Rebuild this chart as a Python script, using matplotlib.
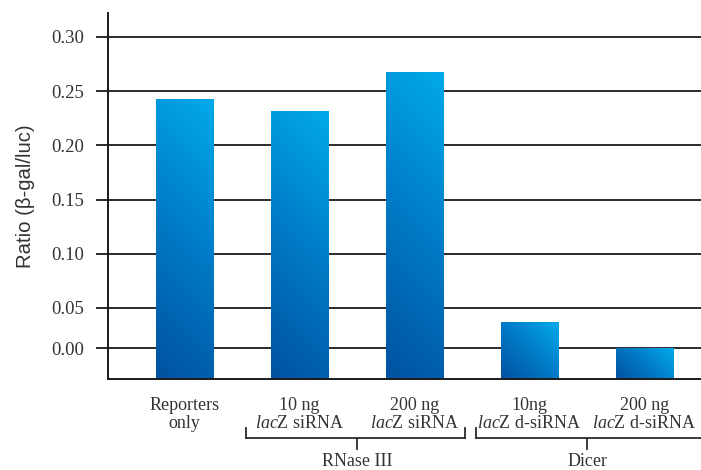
import numpy as np
import matplotlib
matplotlib.use('Agg')
import matplotlib.pyplot as plt
from matplotlib.colors import LinearSegmentedColormap
from matplotlib.transforms import blended_transform_factory

plt.rcParams['mathtext.fontset'] = 'custom'
plt.rcParams['mathtext.rm'] = 'Liberation Serif'
plt.rcParams['mathtext.it'] = 'Liberation Serif:italic'

# data
categories = ['Reporters\nonly',
              '10 ng\n$\\mathit{lac}$Z siRNA',
              '200 ng\n$\\mathit{lac}$Z siRNA',
              '10ng\n$\\mathit{lac}$Z d-siRNA',
              '200 ng\n$\\mathit{lac}$Z d-siRNA']
ratios = [0.243, 0.232, 0.268, 0.037, 0.013]
groups = ['RNase III', 'Dicer']
group_members = [[1, 2], [3, 4]]
tick_labels = ['0.00', '0.05', '0.10', '0.15', '0.20', '0.25', '0.30']
tick_pos = [0.013, 0.05, 0.10, 0.15, 0.20, 0.25, 0.30]

W, H = 701, 470
fig = plt.figure(figsize=(W / 100, H / 100), dpi=100)
ax_left, ax_right, ax_top, ax_bot = 108, 701, 13, 379
ax = fig.add_axes([ax_left / W, 1 - ax_bot / H, (ax_right - ax_left) / W, (ax_bot - ax_top) / H])

ymin, ymax = -0.0155, 0.322
ax.set_xlim(-0.667, 4.49)
ax.set_ylim(ymin, ymax)

txt = '#333333'
for t in tick_pos:
    ax.axhline(t, color='#2b2b2b', lw=1.4, zorder=1)

# diagonal gradient per bar, dark bottom-left -> light top-right
cmap = LinearSegmentedColormap.from_list('blu', ['#0052a0', '#007ac6', '#00aaea'])
bw = 0.496
x = np.arange(len(ratios))
bars = ax.bar(x, [r - ymin for r in ratios], bottom=ymin, width=bw,
              color='none', edgecolor='none', zorder=2)
for b in bars:
    bx, by = b.get_x(), b.get_y()
    bwid, bh = b.get_width(), b.get_height()
    wpx = bwid * 115
    hpx = bh * 1084
    n = 100
    u = np.linspace(0, 1, n)
    U, V = np.meshgrid(u, u)
    g = (U * wpx + V * hpx) / (wpx + hpx)
    im = ax.imshow(g, cmap=cmap, vmin=0, vmax=1, origin='lower', aspect='auto',
                   extent=[bx, bx + bwid, by, by + bh], zorder=3, interpolation='bilinear')
    im.set_clip_path(b)

ax.set_xlim(-0.667, 4.49)
ax.set_ylim(ymin, ymax)

for s in ['top', 'right']:
    ax.spines[s].set_visible(False)
for s in ['left', 'bottom']:
    ax.spines[s].set_linewidth(1.4)
    ax.spines[s].set_color('#1a1a1a')
    ax.spines[s].set_zorder(4)

ax.set_yticks(tick_pos)
ax.set_yticklabels(tick_labels, fontfamily='Liberation Serif', fontsize=13.5, color=txt)
ax.tick_params(axis='y', length=9, width=1.4, color='#2b2b2b', pad=8)
ax.set_xticks([])
ax.set_ylabel('Ratio (β-gal/luc)', fontfamily='Liberation Sans', fontsize=14.6, color=txt, labelpad=12)

trans = blended_transform_factory(ax.transData, ax.transAxes)


def ypx(p):
    return (ax_bot - p) / (ax_bot - ax_top)


for i, c in enumerate(categories):
    l1, l2 = c.split('\n')
    ax.text(i, ypx(405), l1, transform=trans, ha='center', va='center',
            fontfamily='Liberation Serif', fontsize=13, color=txt)
    ax.text(i, ypx(424), l2, transform=trans, ha='center', va='center',
            fontfamily='Liberation Serif', fontsize=13, color=txt)

lw = 1.3
for gi, (name, mem) in enumerate(zip(groups, group_members)):
    mid = (mem[0] + mem[-1]) / 2
    left = mid - 0.97
    right = mid + 0.94 if gi == 0 else 4.6
    ax.plot([left, right], [ypx(438)] * 2, transform=trans, color='#2b2b2b', lw=lw, clip_on=False)
    ax.plot([left, left], [ypx(428), ypx(438)], transform=trans, color='#2b2b2b', lw=lw, clip_on=False)
    if gi == 0:
        ax.plot([right, right], [ypx(428), ypx(438)], transform=trans, color='#2b2b2b', lw=lw, clip_on=False)
    ax.plot([mid, mid], [ypx(438), ypx(449)], transform=trans, color='#2b2b2b', lw=lw, clip_on=False)
    ax.text(mid, ypx(461), name, transform=trans, ha='center', va='center',
            fontfamily='Liberation Serif', fontsize=13, color=txt)

fig.savefig('out.png', dpi=100)
